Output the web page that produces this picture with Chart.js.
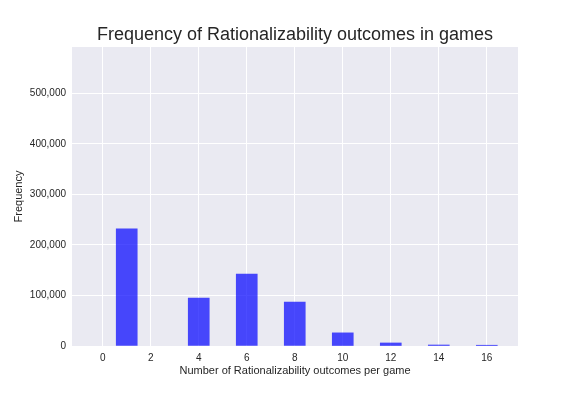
<!DOCTYPE html>
<html><head><meta charset="utf-8">
<script src="https://cdn.jsdelivr.net/npm/chart.js@4/dist/chart.umd.min.js"></script>
<style>html,body{margin:0;padding:0;background:#fff}#c{display:block}</style>
</head><body>
<canvas id="c" width="576" height="396"></canvas>
<script>
const outcomes = [1, 4, 6, 8, 10, 12, 14, 16];
const frequency = [232000, 95000, 142500, 87000, 26000, 6000, 2000, 1500];
const xTicks = [0, 2, 4, 6, 8, 10, 12, 14, 16];
const yTicks = [0, 100000, 200000, 300000, 400000, 500000];

const FONT = "'Liberation Sans', Arial, sans-serif";
const TXT = '#262626';

const bgPlugin = {
  id: 'bg',
  beforeDraw(chart) {
    const {ctx, chartArea: a} = chart;
    ctx.save();
    ctx.fillStyle = '#ffffff';
    ctx.fillRect(0, 0, chart.width, chart.height);
    ctx.fillStyle = '#EAEAF2';
    ctx.fillRect(a.left, a.top, a.right - a.left, a.bottom - a.top);
    ctx.restore();
  }
};

new Chart(document.getElementById('c'), {
  type: 'bar',
  data: {
    datasets: [{
      data: outcomes.map((x, i) => ({x: x, y: frequency[i]})),
      backgroundColor: 'rgba(0,0,255,0.7)',
      borderWidth: 0,
      barThickness: 21
    }]
  },
  options: {
    responsive: false,
    animation: false,
    layout: {padding: {left: 0, right: 58, top: 0, bottom: 0}},
    plugins: {
      legend: {display: false},
      tooltip: {enabled: false},
      title: {
        display: true,
        text: 'Frequency of Rationalizability outcomes in games',
        color: TXT,
        fullSize: false,
        font: {family: FONT, size: 18, weight: 'normal'},
        padding: {top: 24, bottom: 1.4}
      }
    },
    scales: {
      x: {
        type: 'linear',
        min: -1.28,
        max: 17.3,
        offset: false,
        afterFit(s) { s.height = 50; },
        afterBuildTicks(s) { s.ticks = xTicks.map(v => ({value: v})); },
        grid: {color: '#ffffff', lineWidth: 1, drawTicks: false, offset: false},
        border: {display: false},
        ticks: {color: TXT, font: {family: FONT, size: 10}, padding: 6, maxRotation: 0, includeBounds: false},
        title: {display: true, text: 'Number of Rationalizability outcomes per game', color: TXT,
                font: {family: FONT, size: 11}, padding: {top: 2, bottom: 18}}
      },
      y: {
        min: 0,
        max: 591500,
        afterFit(s) { s.width = 72; },
        afterBuildTicks(s) { s.ticks = yTicks.map(v => ({value: v})); },
        grid: {color: '#ffffff', lineWidth: 1, drawTicks: false},
        border: {display: false},
        ticks: {color: TXT, font: {family: FONT, size: 10}, padding: 6, includeBounds: false,
                callback: v => v.toLocaleString('en-US')},
        title: {display: true, text: 'Frequency', color: TXT,
                font: {family: FONT, size: 11}, padding: {top: 12, bottom: 0}}
      }
    }
  },
  plugins: [bgPlugin]
});
</script>
</body></html>
